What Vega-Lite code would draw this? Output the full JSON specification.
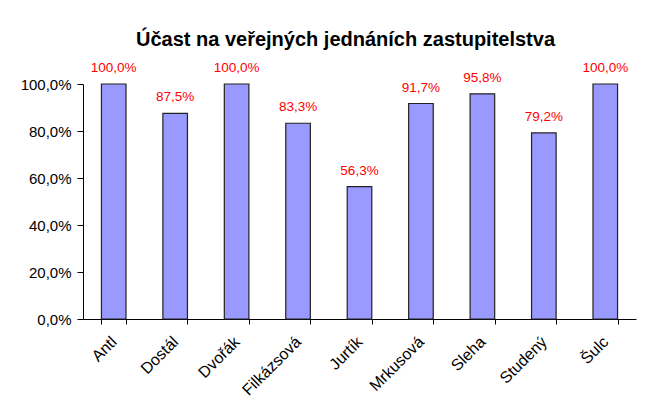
{
  "$schema": "https://vega.github.io/schema/vega-lite/v6.json",
  "width": 553,
  "height": 235,
  "autosize": {"type": "none"},
  "padding": {"left": 83, "top": 84, "right": 28, "bottom": 91},
  "background": "white",
  "title": {
    "text": "Účast na veřejných jednáních zastupitelstva",
    "font": "Liberation Sans",
    "fontSize": 20,
    "fontWeight": "bold",
    "color": "black",
    "anchor": "middle",
    "frame": "group",
    "dx": -14,
    "offset": 11
  },
  "data": {
    "values": [
      {"name": "Antl", "value": 1.0},
      {"name": "Dostál", "value": 0.875},
      {"name": "Dvořák", "value": 1.0},
      {"name": "Filkázsová", "value": 0.833},
      {"name": "Jurtík", "value": 0.563},
      {"name": "Mrkusová", "value": 0.917},
      {"name": "Sleha", "value": 0.958},
      {"name": "Studený", "value": 0.792},
      {"name": "Šulc", "value": 1.0}
    ]
  },
  "encoding": {
    "x": {
      "field": "name",
      "type": "nominal",
      "sort": null,
      "scale": {"paddingInner": 0.6, "paddingOuter": 0.3},
      "axis": {
        "title": null,
        "labelAngle": -45,
        "labelAlign": "right",
        "labelBaseline": "middle",
        "labelPadding": 15,
        "labelFont": "Liberation Sans",
        "labelFontSize": 16,
        "labelColor": "black",
        "tickBand": "extent",
        "tickSize": 5,
        "tickColor": "black",
        "domainColor": "black",
        "grid": false
      }
    },
    "y": {
      "field": "value",
      "type": "quantitative",
      "scale": {"domain": [0, 1]},
      "axis": {
        "title": null,
        "format": ".1%",
        "values": [0, 0.2, 0.4, 0.6, 0.8, 1.0],
        "labelFont": "Liberation Sans",
        "labelFontSize": 15,
        "labelColor": "black",
        "labelPadding": 6,
        "tickSize": 6,
        "tickColor": "black",
        "domainColor": "black",
        "grid": false
      }
    }
  },
  "layer": [
    {
      "mark": {"type": "bar", "color": "#9999FF", "stroke": "#222222", "strokeWidth": 1.2}
    },
    {
      "mark": {"type": "text", "color": "#FF0000", "font": "Liberation Sans", "fontSize": 13.5, "dy": -9, "baseline": "bottom"},
      "encoding": {
        "text": {"field": "value", "type": "quantitative", "format": ".1%"}
      }
    }
  ],
  "config": {
    "view": {"stroke": null},
    "locale": {
      "number": {"decimal": ",", "thousands": " ", "grouping": [3], "currency": ["", " Kč"]}
    }
  }
}
